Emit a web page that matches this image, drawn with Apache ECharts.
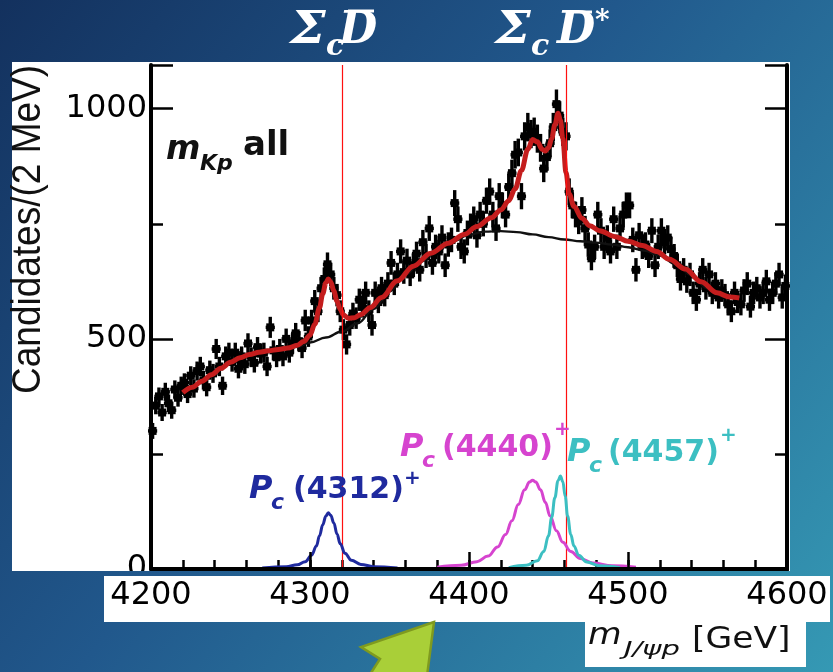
<!DOCTYPE html>
<html><head><meta charset="utf-8">
<script src="https://cdn.jsdelivr.net/npm/echarts@6/dist/echarts.min.js"></script>
<style>html,body{margin:0;padding:0;background:#1d4e86}#c{width:833px;height:672px}</style>
</head><body><div id="c"></div>
<script>
// ---------- data ----------
const binStart = 4200, binWidth = 2;           // Candidates/(2 MeV)
const counts = [
  300,355,375,340,385,360,345,390,372,398,
  405,380,420,392,430,440,410,395,432,425,
  478,440,398,462,470,450,470,435,462,445,
  490,460,448,482,468,470,440,525,475,460,
  478,462,500,470,490,512,495,480,540,505,
  540,582,560,610,630,662,640,610,595,560,
  520,488,530,555,545,585,570,600,560,530,
  600,580,610,595,620,665,620,640,690,645,
  670,640,660,685,650,710,680,740,665,700,
  690,720,660,705,715,795,760,700,690,730,
  745,760,725,770,750,800,820,770,740,810,
  790,770,830,860,900,905,810,940,960,945,
  950,935,915,870,895,925,960,1010,985,950,
  940,820,790,770,755,780,740,705,675,700,
  770,735,700,720,690,760,700,740,770,790,
  790,715,650,725,700,705,680,735,660,700,
  735,710,720,695,680,660,630,650,625,640,
  600,585,620,650,610,640,600,620,590,605,
  595,575,560,600,580,575,605,620,570,600,
  610,590,600,625,585,600,620,640,590,615
];
const totalFit = [
  [4220,383],[4226,395],[4232,408],[4238,422],[4244,436],[4250,449],[4256,459],[4262,466],
  [4268,471],[4274,474],[4280,477],[4286,480],[4292,486],[4296,494],[4300,508],[4303,532],
  [4306,568],[4308,598],[4310,622],[4311.5,630],[4313,624],[4315,604],[4317,582],[4319,564],
  [4321,552],[4324,545],[4328,546],[4332,553],[4338,568],[4345,590],[4355,626],[4365,658],
  [4376,686],[4387,708],[4397,727],[4405,744],[4414,763],[4420,780],[4425,800],[4429,826],
  [4433,866],[4437,912],[4440,933],[4443,928],[4446,912],[4448,908],[4450,915],[4452,935],
  [4454,965],[4456,990],[4457.5,975],[4459,935],[4461,862],[4463,815],[4466,788],[4471,762],
  [4476,746],[4482,735],[4492,722],[4500,712],[4509,703],[4518,690],[4526,673],[4536,652],
  [4546,624],[4556,600],[4564,591],[4570,589]
];
const background = [
  [4220,383],[4226,395],[4232,408],[4238,422],[4244,436],[4250,449],[4256,459],[4262,466],
  [4268,470],[4274,473],[4280,476],[4286,479],[4292,483],[4300,492],[4310,503],[4320,516],
  [4330,534],[4340,565],[4350,603],[4360,640],[4370,668],[4380,692],[4390,712],[4400,726],
  [4410,733],[4420,734],[4430,732],[4440,727],[4450,721],[4460,716],[4470,712],[4480,709],
  [4490,705],[4500,699],[4510,692],[4520,681],[4530,662],[4540,638],[4550,610],[4560,592],
  [4570,585]
];
const pc4312 = [
  [4270,2],[4285,5],[4292,9],[4297,16],[4301,30],[4304,50],[4306,72],[4308,96],[4310,115],
  [4311.5,122],[4313,117],[4315,100],[4317,76],[4319,55],[4322,34],[4326,19],[4332,10],
  [4340,5],[4355,2]
];
const pc4440 = [
  [4380,4],[4395,8],[4405,16],[4412,28],[4418,48],[4423,75],[4427,105],[4431,140],[4435,172],
  [4438,189],[4440,193],[4442,189],[4445,172],[4448,145],[4451,115],[4455,83],[4459,58],
  [4464,38],[4470,23],[4478,13],[4490,7],[4505,4]
];
const pc4457 = [
  [4425,3],[4436,8],[4443,18],[4447,38],[4450,72],[4452,112],[4454,155],[4456,192],
  [4457.5,202],[4459,190],[4460.5,158],[4462,115],[4464,75],[4466,50],[4469,30],[4474,15],
  [4482,7],[4495,3]
];
const thresholds = [4320, 4461];                 // Sigma_c Dbar, Sigma_c Dbar*
const xTickLabels = [4200, 4300, 4400, 4500, 4600];
const yTickLabels = [0, 500, 1000];

// ---------- chart ----------
const chart = echarts.init(document.getElementById('c'), null, {renderer: 'canvas'});
const grad = {type:'linear', x:0, y:0, x2:833, y2:672, global:true,
  colorStops:[{offset:0,color:'#13315e'},{offset:0.45,color:'#21588c'},{offset:1,color:'#3599b4'}]};
function T(x, y, text, font, fill, extra) {
  return Object.assign({type:'text', x:x, y:y, z:20, silent:true,
    style:{text:text, font:font, fill:fill, textAlign:'left', textVerticalAlign:'middle'}}, extra || {});
}
const blue = '#1f2a9e', mag = '#d644cf', cyan = '#3cbfc2';
const points = counts.map((c, i) => [binStart + binWidth * (i + 0.5), c, Math.sqrt(c)]);

const axisBase = {type:'value', min:4200, max:4600, splitLine:{show:false}};
const yBase = {type:'value', min:0, max:1095, splitLine:{show:false}};
const tickStyle = {color:'#000', width:2.5};

const option = {
  animation:false,
  grid:{left:151, right:46, top:65, bottom:103},
  xAxis:[
    Object.assign({}, axisBase, {position:'bottom', interval:100, z:10,
      axisLine:{lineStyle:{color:'#000', width:4}},
      axisTick:{inside:true, length:17, lineStyle:tickStyle},
      axisLabel:{margin:11, color:'#000', fontSize:32, fontFamily:'DejaVu Sans',
        formatter:v => xTickLabels.includes(v) ? String(v) : ''}}),
    Object.assign({}, axisBase, {position:'bottom', interval:20,
      axisLine:{show:false}, axisTick:{inside:true, length:9, lineStyle:tickStyle}, axisLabel:{show:false}}),
    Object.assign({}, axisBase, {position:'top', interval:100,
      axisLine:{lineStyle:{color:'#000', width:4}},
      axisTick:{inside:true, length:17, lineStyle:tickStyle}, axisLabel:{show:false}}),
    Object.assign({}, axisBase, {position:'top', interval:20,
      axisLine:{show:false}, axisTick:{inside:true, length:9, lineStyle:tickStyle}, axisLabel:{show:false}})
  ],
  yAxis:[
    Object.assign({}, yBase, {position:'left', interval:500,
      axisLine:{lineStyle:{color:'#000', width:4}},
      axisTick:{inside:true, length:22, lineStyle:tickStyle},
      axisLabel:{margin:4, color:'#000', fontSize:32, fontFamily:'DejaVu Sans',
        formatter:v => yTickLabels.includes(v) ? String(v) : ''}}),
    Object.assign({}, yBase, {position:'left', interval:250,
      axisLine:{show:false}, axisTick:{inside:true, length:12, lineStyle:tickStyle}, axisLabel:{show:false}}),
    Object.assign({}, yBase, {position:'right', interval:500,
      axisLine:{lineStyle:{color:'#000', width:4}},
      axisTick:{inside:true, length:22, lineStyle:tickStyle}, axisLabel:{show:false}}),
    Object.assign({}, yBase, {position:'right', interval:250,
      axisLine:{show:false}, axisTick:{inside:true, length:12, lineStyle:tickStyle}, axisLabel:{show:false}})
  ],
  series:[
    {type:'custom', z:2, data:points, renderItem:function(params, api){
      const x = api.value(0), y = api.value(1), e = api.value(2);
      const p = api.coord([x, y]), t = api.coord([x, y + e]), b = api.coord([x, y - e]);
      const l = api.coord([x - binWidth/2, y]), r = api.coord([x + binWidth/2, y]);
      return {type:'group', children:[
        {type:'line', shape:{x1:p[0], y1:t[1], x2:p[0], y2:b[1]}, style:{stroke:'#000', lineWidth:3.4}},
        {type:'line', shape:{x1:l[0]-3, y1:p[1], x2:r[0]+3, y2:p[1]}, style:{stroke:'#000', lineWidth:3.4}},
        {type:'rect', shape:{x:p[0]-4, y:p[1]-4, width:8, height:8}, style:{fill:'#000'}}
      ]};
    }},
    {type:'line', z:3, data:background, showSymbol:false, smooth:0.4, smoothMonotone:'x',
      lineStyle:{color:'#111', width:2.4},
      markLine:{silent:true, symbol:'none', label:{show:false}, animation:false,
        lineStyle:{color:'#ff1010', width:1.2, type:'solid'},
        data:thresholds.map(v => ({xAxis:v}))}},
    {type:'line', z:4, data:totalFit, showSymbol:false, smooth:0.35, smoothMonotone:'x',
      lineStyle:{color:'#c41d1d', width:5}},
    {type:'line', z:5, data:pc4312, showSymbol:false, smooth:0.4, smoothMonotone:'x',
      lineStyle:{color:blue, width:3}},
    {type:'line', z:5, data:pc4440, showSymbol:false, smooth:0.4, smoothMonotone:'x',
      lineStyle:{color:mag, width:3}},
    {type:'line', z:5, data:pc4457, showSymbol:false, smooth:0.4, smoothMonotone:'x',
      lineStyle:{color:cyan, width:3}}
  ],
  graphic:[
    {type:'rect', z:-100, silent:true, shape:{x:0, y:0, width:833, height:672}, style:{fill:grad}},
    {type:'rect', z:-90, silent:true, shape:{x:12, y:62, width:778, height:509}, style:{fill:'#ffffff'}},
    // y title
    {type:'text', x:29, y:394, rotation:Math.PI/2, scaleY:1.1, z:1, silent:true,
      style:{text:'Candidates/(2 MeV)', font:'37px "Liberation Sans"', fill:'#111',
        textAlign:'left', textVerticalAlign:'middle'}},
    // covers (slide background showing between the pasted pieces)
    {type:'rect', z:5, silent:true, shape:{x:0, y:0, width:833, height:62}, style:{fill:grad}},
    {type:'rect', z:5, silent:true, shape:{x:0, y:571, width:833, height:5}, style:{fill:grad}},
    {type:'rect', z:5, silent:true, shape:{x:104, y:576, width:726, height:46}, style:{fill:'#ffffff'}},
    {type:'rect', z:5, silent:true, shape:{x:585, y:622, width:221, height:45}, style:{fill:'#ffffff'}},
    // x title
    T(588, 636, 'm', 'italic 30px "DejaVu Sans"', '#111', {scaleX:1.15}),
    T(624, 650, 'J/ψp', 'italic 20px "DejaVu Sans"', '#111', {scaleX:1.45}),
    T(692, 640, '[GeV]', '30px "DejaVu Sans"', '#111', {scaleX:1.15}),
    // m_Kp all
    T(166, 150, 'm', 'italic bold 33px "DejaVu Sans"', '#111'),
    T(200, 164, 'Kp', 'italic bold 22px "DejaVu Sans"', '#111'),
    T(243, 146, 'all', 'bold 34px "DejaVu Sans"', '#111'),
    // Pc labels
    T(249, 490, 'P', 'italic bold 32px "DejaVu Sans"', blue),
    T(271, 503, 'c', 'italic bold 22px "DejaVu Sans"', blue),
    T(293, 490, '(4312)', 'bold 30px "DejaVu Sans"', blue),
    T(404, 479, '+', 'bold 20px "DejaVu Sans"', blue),
    T(400, 448, 'P', 'italic bold 32px "DejaVu Sans"', mag),
    T(422, 461, 'c', 'italic bold 22px "DejaVu Sans"', mag),
    T(442, 448, '(4440)', 'bold 30px "DejaVu Sans"', mag),
    T(554, 430, '+', 'bold 20px "DejaVu Sans"', mag),
    T(567, 453, 'P', 'italic bold 32px "DejaVu Sans"', cyan),
    T(589, 466, 'c', 'italic bold 22px "DejaVu Sans"', cyan),
    T(608, 453, '(4457)', 'bold 30px "DejaVu Sans"', cyan),
    T(720, 436, '+', 'bold 20px "DejaVu Sans"', cyan),
    // threshold labels
    T(290, 32, 'Σ', 'italic bold 44px "DejaVu Serif"', '#ffffff', {scaleX:1.15}),
    T(326, 47, 'c', 'italic bold 30px "DejaVu Serif"', '#ffffff'),
    T(339, 32, 'D', 'italic bold 44px "DejaVu Serif"', '#ffffff'),
    {type:'line', z:20, silent:true, shape:{x1:348, y1:11, x2:374, y2:11}, style:{stroke:'#fff', lineWidth:3}},
    T(495, 32, 'Σ', 'italic bold 44px "DejaVu Serif"', '#ffffff', {scaleX:1.15}),
    T(531, 47, 'c', 'italic bold 30px "DejaVu Serif"', '#ffffff'),
    T(557, 32, 'D', 'italic bold 44px "DejaVu Serif"', '#ffffff'),
    {type:'line', z:20, silent:true, shape:{x1:566, y1:12, x2:592, y2:12}, style:{stroke:'#fff', lineWidth:3}},
    T(595, 22, '*', 'bold 28px "DejaVu Serif"', '#ffffff'),
    // green arrow
    {type:'polygon', z:20, silent:true,
      shape:{points:[[434,622],[361,647],[380,659],[369,676],[427,676]]},
      style:{fill:'#a9cf38', stroke:'#7f9a1f', lineWidth:2.5}}
  ]
};
chart.setOption(option);
</script></body></html>
